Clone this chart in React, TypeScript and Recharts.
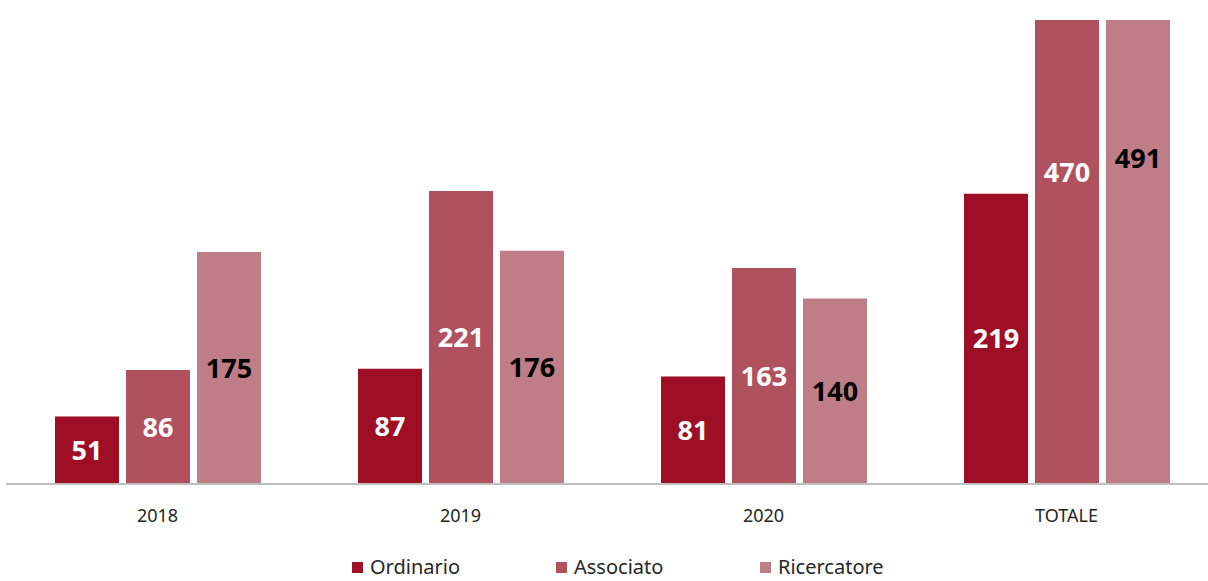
import { BarChart, Bar, XAxis, YAxis, LabelList } from "recharts";

const categories = ["2018", "2019", "2020", "TOTALE"];
const ordinario = [51, 87, 81, 219];
const associato = [86, 221, 163, 470];
const ricercatore = [175, 176, 140, 491];

const series = [
  { key: "ordinario", name: "Ordinario", color: "#9E0E24", label: "#ffffff" },
  { key: "associato", name: "Associato", color: "#B0515E", label: "#ffffff" },
  { key: "ricercatore", name: "Ricercatore", color: "#BF7E87", label: "#000000" },
];

const data = categories.map((name, i) => ({
  name,
  ordinario: ordinario[i],
  associato: associato[i],
  ricercatore: ricercatore[i],
}));

const FONT = "'Noto Sans', 'Open Sans', sans-serif";

export default function App() {
  return (
    <div
      style={{
        position: "fixed",
        left: 0,
        top: 0,
        width: 1208,
        height: 581,
        overflow: "hidden",
        background: "#fff",
        fontFamily: FONT,
      }}
    >
      <BarChart
        width={1220}
        height={581}
        data={data}
        margin={{ top: 20, right: 2, left: 6, bottom: 67 }}
        barSize={64}
        barGap={7}
      >
        <XAxis
          dataKey="name"
          height={30}
          tickLine={false}
          tickSize={0}
          tickMargin={25}
          axisLine={{ stroke: "#BFBFBF", strokeWidth: 2 }}
          tick={{ fill: "#262626", fontSize: 18, fontFamily: FONT }}
        />
        <YAxis hide domain={[0, 350]} allowDataOverflow />
        {series.map((s) => (
          <Bar
            key={s.key}
            dataKey={s.key}
            name={s.name}
            fill={s.color}
            isAnimationActive={false}
          >
            <LabelList
              dataKey={s.key}
              position="center"
              fill={s.label}
              fontSize={27}
              fontWeight="bold"
              fontFamily={FONT}
            />
          </Bar>
        ))}
      </BarChart>
      <div
        style={{
          position: "absolute",
          left: 352,
          top: 555,
          display: "flex",
          fontSize: 20,
          lineHeight: "24px",
          color: "#262626",
        }}
      >
        {series.map((s) => (
          <div
            key={s.key}
            style={{ width: 204, display: "flex", alignItems: "center" }}
          >
            <span
              style={{
                display: "inline-block",
                width: 11,
                height: 11,
                background: s.color,
                marginRight: 7,
              }}
            />
            <span>{s.name}</span>
          </div>
        ))}
      </div>
    </div>
  );
}
